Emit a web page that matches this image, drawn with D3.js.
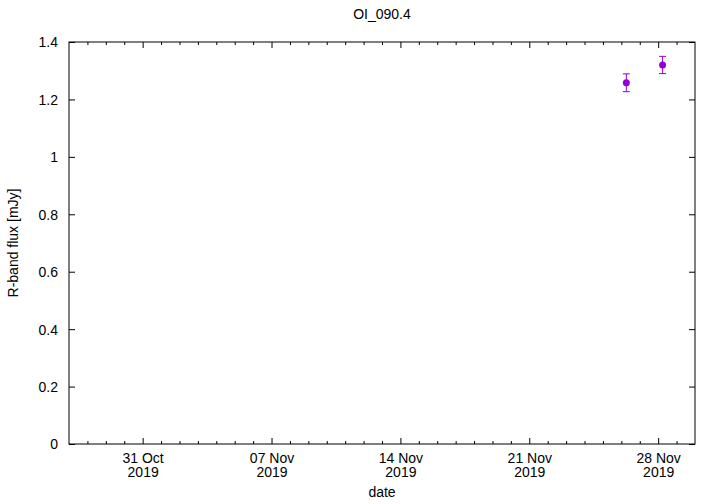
<!DOCTYPE html>
<html>
<head>
<meta charset="utf-8">
<script src="https://cdn.jsdelivr.net/npm/d3@7"></script>
<style>
	body { margin: 0; background: #fff; }
	svg text { font-family: "Liberation Sans", Arial, sans-serif; font-size: 14px; fill: #000; }
</style>
</head>
<body>
<svg class="flux-chart" width="720" height="504"></svg>
<script>
let obsDates = ['2019-11-26T06:30', '2019-11-28T05:45'];
let obsFlux = [1.258, 1.320];
let obsErr = [0.031, 0.030];

let yTicks = [0, 0.2, 0.4, 0.6, 0.8, 1, 1.2, 1.4];
let xTickDates = ['2019-10-31', '2019-11-07', '2019-11-14', '2019-11-21', '2019-11-28'];

let margin = { top: 42, right: 25, bottom: 60, left: 69 };
let width = 720 - margin.left - margin.right;
let height = 504 - margin.top - margin.bottom;

let parseT = d3.timeParse('%Y-%m-%dT%H:%M');
let parseD = d3.timeParse('%Y-%m-%d');

let x = d3.scaleTime()
	.domain([parseD('2019-10-27'), parseD('2019-11-30')])
	.range([0, width]);
let y = d3.scaleLinear().domain([0, 1.4]).range([height, 0]);

let svg = d3.select('.flux-chart');
let g = svg.append('g').attr('transform', 'translate(' + margin.left + ',' + margin.top + ')');

let majors = xTickDates.map(parseD);
let minors = d3.timeDay.range(x.domain()[0], x.domain()[1]).slice(1)
	.filter(function(d) { return !majors.some(function(m) { return +m === +d; }); });

// ticks pointing inward on all four sides
function tickGroup(axis, transform) {
	let a = g.append('g').attr('transform', transform).call(axis);
	a.select('.domain').remove();
	a.attr('font-family', null).attr('font-size', null);
	a.selectAll('line').attr('stroke', '#000');
	return a;
}

// bottom x axis, majors with two-line labels
let xb = tickGroup(d3.axisBottom(x).tickValues(majors).tickSizeInner(-6).tickSizeOuter(0).tickFormat(''),
	'translate(0,' + height + ')');
xb.selectAll('.tick text').remove();
xb.selectAll('.tick').each(function(d) {
	let t = d3.select(this).append('text').attr('text-anchor', 'middle').attr('y', 19);
	t.append('tspan').attr('x', 0).text(d3.timeFormat('%d %b')(d));
	t.append('tspan').attr('x', 0).attr('dy', 14).text(d3.timeFormat('%Y')(d));
});
tickGroup(d3.axisBottom(x).tickValues(minors).tickSizeInner(-3).tickSizeOuter(0).tickFormat(''),
	'translate(0,' + height + ')').selectAll('text').remove();
tickGroup(d3.axisTop(x).tickValues(majors).tickSizeInner(-6).tickSizeOuter(0).tickFormat(''), 'translate(0,0)')
	.selectAll('text').remove();
tickGroup(d3.axisTop(x).tickValues(minors).tickSizeInner(-3).tickSizeOuter(0).tickFormat(''), 'translate(0,0)')
	.selectAll('text').remove();

// y axes
let yl = tickGroup(d3.axisLeft(y).tickValues(yTicks).tickSizeInner(-6).tickSizeOuter(0)
	.tickFormat(function(d) { return String(d); }), 'translate(0,0)');
yl.selectAll('text').attr('x', -11).attr('dy', '0.35em').attr('text-anchor', 'end');
tickGroup(d3.axisRight(y).tickValues(yTicks).tickSizeInner(-6).tickSizeOuter(0).tickFormat(''),
	'translate(' + width + ',0)').selectAll('text').remove();

// frame
g.append('rect').attr('width', width).attr('height', height)
	.attr('fill', 'none').attr('stroke', '#000').attr('stroke-width', 1);

// labels
svg.append('text').attr('x', margin.left + width / 2).attr('y', 19).attr('text-anchor', 'middle').text('OI_090.4');
svg.append('text').attr('x', margin.left + width / 2).attr('y', 497).attr('text-anchor', 'middle').text('date');
svg.append('text').attr('transform', 'translate(18,' + (margin.top + height / 2) + ') rotate(-90)')
	.attr('text-anchor', 'middle').text('R-band flux [mJy]');

// error bars and points
let color = '#9400d3';
let pts = obsDates.map(function(d, i) { return { t: parseT(d), v: obsFlux[i], e: obsErr[i] }; });
let eb = g.selectAll('.err').data(pts).enter().append('g').attr('class', 'err')
	.attr('stroke', color).attr('stroke-width', 1);
eb.append('line')
	.attr('x1', function(d) { return x(d.t); }).attr('x2', function(d) { return x(d.t); })
	.attr('y1', function(d) { return y(d.v - d.e); }).attr('y2', function(d) { return y(d.v + d.e); });
eb.append('line')
	.attr('x1', function(d) { return x(d.t) - 3.5; }).attr('x2', function(d) { return x(d.t) + 3.5; })
	.attr('y1', function(d) { return y(d.v + d.e); }).attr('y2', function(d) { return y(d.v + d.e); });
eb.append('line')
	.attr('x1', function(d) { return x(d.t) - 3.5; }).attr('x2', function(d) { return x(d.t) + 3.5; })
	.attr('y1', function(d) { return y(d.v - d.e); }).attr('y2', function(d) { return y(d.v - d.e); });
g.selectAll('.pt').data(pts).enter().append('circle').attr('class', 'pt')
	.attr('cx', function(d) { return x(d.t); })
	.attr('cy', function(d) { return y(d.v); })
	.attr('r', 3.5)
	.attr('fill', color);
</script>
</body>
</html>
